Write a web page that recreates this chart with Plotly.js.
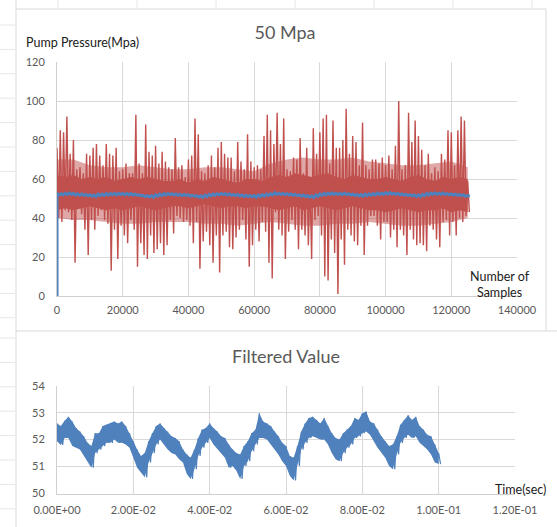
<!DOCTYPE html>
<html><head><meta charset="utf-8">
<script src="https://cdn.plot.ly/plotly-3.0.1.min.js"></script>
<style>html,body{margin:0;padding:0;background:#fff;}#chart{width:557px;height:527px;}</style>
</head><body><div id="chart"></div>
<script>
// ---------- data ----------
const sampleStep = 1000;            // samples between consecutive spike readings
const pumpHigh = [76,85,84,92,73,80,65,66,63,73,
  72,76,78,72,67,78,73,72,76,64,
  65,68,63,63,93,68,63,88,74,72,
  77,68,74,69,66,65,81,66,67,61,
  70,72,91,83,64,63,67,72,66,76,
  79,73,71,71,64,79,69,65,83,69,
  66,67,65,82,93,85,78,94,78,91,
  65,64,71,70,81,63,76,60,86,73,
  84,91,93,68,90,76,76,80,96,73,
  82,79,67,89,67,65,70,70,68,71,
  67,72,65,77,100,65,67,94,79,90,
  82,75,67,73,63,66,64,73,70,85,
  84,67,85,92,90,59];
const pumpLow = [40,38,44,43,39,17,46,42,34,21,
  39,34,41,44,39,37,13,34,19,36,
  31,27,39,34,15,27,21,19,31,22,
  24,27,21,26,39,32,41,40,38,39,
  36,27,38,14,28,33,26,17,31,12,
  31,33,25,24,30,34,39,29,15,26,
  34,28,38,33,17,9,43,34,31,19,
  33,39,34,24,34,31,26,19,39,41,
  31,10,8,29,22,1,29,16,34,31,
  28,26,36,21,36,41,41,36,29,38,
  38,30,34,25,34,31,21,34,29,26,
  27,26,23,36,34,29,25,38,39,31,
  38,31,40,38,41,43];
// solid core of the pressure band (every 2500 samples)
const coreStep = 2500;
const coreHigh = [62,61,62,60,61,60,61,59,60,61,60,61,60,59,
  59,60,58,60,59,61,60,59,58,60,60,59,
  61,62,61,63,62,61,62,63,61,60,62,61,60,
  60,61,60,59,61,62,60,59,61,60,61,60];
const coreLow = [44,45,44,45,46,45,44,45,44,45,46,45,44,45,
  46,46,45,46,47,46,45,46,46,45,46,46,
  45,44,45,46,44,45,46,45,44,45,46,45,44,
  44,43,44,45,44,43,44,44,45,43,44,43];
// dense (not solid) zone around the core (every 5000 samples)
const denseStep = 5000;
const denseHigh = [70,70,67,66,66,67,66,65,65,66,66,65,64,68,70,71,70,70,71,69,68,67,67,68,69,66];
const denseLow  = [40,39,39,38,37,37,38,38,38,37,37,36,37,38,37,36,36,37,37,38,37,36,36,37,38,40];

const timeStep = 0.001;             // seconds between filtered readings
const filtHigh = [52.6,52.5,52.7,52.85,52.67,52.43,52.3,52.12,51.88,51.76,
  52.24,52.24,52.5,52.55,52.6,52.67,52.6,52.67,52.5,52.24,
  51.94,51.63,51.39,51.5,51.94,52.24,52.5,52.6,52.43,52.3,
  52.12,52.06,51.94,51.63,51.45,51.33,51.63,52.06,52.37,52.43,
  52.6,52.43,52.3,52.12,52.06,51.82,51.63,51.5,51.45,51.76,
  51.94,52.24,52.37,52.98,52.67,52.6,52.5,52.3,52.12,51.88,
  51.76,51.39,51.33,51.76,52.3,52.6,52.8,52.85,52.73,52.6,
  52.8,52.5,52.24,52.06,52.0,52.24,52.37,52.5,52.8,52.73,
  52.98,53.04,52.67,52.6,52.37,52.12,51.94,51.76,51.82,52.12,
  52.55,52.73,52.9,52.73,52.85,52.5,52.37,52.18,52.12,51.82,
  51.5];
const filtLow = [51.94,51.8,52.06,52.06,51.76,51.7,51.63,51.4,51.2,50.96,
  51.5,51.63,51.76,51.88,51.88,52.0,51.88,51.88,51.82,51.7,
  51.33,50.96,50.78,50.6,51.15,51.5,51.82,52.0,51.82,51.63,
  51.5,51.45,51.27,51.15,50.72,50.54,50.9,51.39,51.7,51.88,
  52.06,51.82,51.63,51.5,51.33,50.96,51.02,50.84,50.54,51.02,
  51.2,51.57,51.82,52.06,52.06,52.0,51.82,51.63,51.45,51.2,
  51.02,50.66,50.48,51.02,51.63,51.88,52.06,52.12,52.06,52.0,
  52.0,51.82,51.5,51.27,51.2,51.5,51.7,51.82,52.06,52.12,
  52.24,52.3,52.18,51.94,51.7,51.5,51.33,51.02,50.9,51.45,
  51.88,52.06,52.18,52.06,52.12,51.88,51.76,51.63,51.45,51.15,
  51.09];
const samplesPerSecond = 1250000;   // 125000 samples = 0.1 s
const filterStartValue = 0;

// ticks
const pumpXTicks = [0,20000,40000,60000,80000,100000,120000,140000];
const pumpYTicks = [0,20,40,60,80,100,120];
const timeTicks = [0,0.02,0.04,0.06,0.08,0.10,0.12];
const timeTickLabels = ["0.00E+00","2.00E-02","4.00E-02","6.00E-02","8.00E-02","1.00E-01","1.20E-01"];
const filtYTicks = [50,51,52,53,54];

// ---------- build traces ----------
function band(step, hi, lo) {
  const xs = hi.map((_, i) => i * step);
  return {x: xs.concat(xs.slice().reverse()), y: hi.concat(lo.slice().reverse())};
}
const pumpX = [], pumpY = [];
pumpHigh.forEach((h, i) => {
  pumpX.push(i * sampleStep); pumpY.push(h);
  pumpX.push(i * sampleStep + sampleStep / 2); pumpY.push(pumpLow[i]);
});
const corePoly = band(coreStep, coreHigh, coreLow);
const densePoly = band(denseStep, denseHigh, denseLow);

const filtT = [], filtV = [];
filtHigh.forEach((h, k) => {
  filtT.push(k * timeStep); filtV.push(h);
  filtT.push(k * timeStep + timeStep / 2); filtV.push(filtLow[k]);
});
const filtPoly = band(timeStep, filtHigh, filtLow);

const filtSamplesX = [0].concat(filtT.map(t => t * samplesPerSecond));
const filtSamplesY = [filterStartValue].concat(filtV);

const RED = '#C0504D', BLUE = '#4F81BD';
const traces = [
  {type:'scatter', mode:'lines', x:densePoly.x, y:densePoly.y, xaxis:'x', yaxis:'y',
   fill:'toself', fillcolor:'rgba(192,80,77,0.5)', line:{width:0}, hoverinfo:'skip'},
  {type:'scatter', mode:'lines', x:corePoly.x, y:corePoly.y, xaxis:'x', yaxis:'y',
   fill:'toself', fillcolor:RED, line:{width:0}, hoverinfo:'skip'},
  {type:'scatter', mode:'lines', x:pumpX, y:pumpY, xaxis:'x', yaxis:'y',
   line:{color:RED, width:1.4, simplify:false}, hoverinfo:'skip'},
  {type:'scatter', mode:'lines', x:filtSamplesX, y:filtSamplesY, xaxis:'x', yaxis:'y',
   line:{color:BLUE, width:3, simplify:false}, hoverinfo:'skip'},
  {type:'scatter', mode:'lines', x:filtPoly.x, y:filtPoly.y, xaxis:'x2', yaxis:'y2',
   fill:'toself', fillcolor:BLUE, line:{width:0}, hoverinfo:'skip'},
  {type:'scatter', mode:'lines', x:filtT, y:filtV, xaxis:'x2', yaxis:'y2',
   line:{color:BLUE, width:1.2, simplify:false}, hoverinfo:'skip'}
];

// ---------- layout ----------
const W = 557, H = 527;
const px = x => x / W, py = y => 1 - y / H;
const GRID = '#D9D9D9', AXIS = '#CFCFCF', TXT = '#595959';
const FONT = 'Lato, "Open Sans", "Liberation Sans", sans-serif';
const axisCommon = {showgrid:true, gridcolor:GRID, gridwidth:1, zeroline:false,
  showline:true, linecolor:AXIS, linewidth:1, ticks:'', fixedrange:true,
  tickfont:{family:FONT, size:11, color:TXT}};

const shapes = [];
const border = '#D9D9D9';
function ln(x0,y0,x1,y1,c){shapes.push({type:'line',xref:'paper',yref:'paper',x0:px(x0),y0:py(y0),x1:px(x1),y1:py(y1),line:{color:c||border,width:1}});}
ln(16,9,546,9); ln(546,9,546,331); ln(16,0,16,527); ln(16,331,557,331);
// spreadsheet cell lines peeking around the charts
for (let y = 25; y < 331; y += 24.4) ln(0, y, 15, y, '#E6E6E6');
for (let y = 338; y < 527; y += 24.4) ln(0, y, 15, y, '#E6E6E6');
for (let x = 58; x < 546; x += 79) ln(x, 0, x, 8, '#E6E6E6');

const layout = {
  width:W, height:H, margin:{l:0,r:0,t:0,b:0}, showlegend:false,
  paper_bgcolor:'#fff', plot_bgcolor:'#fff',
  font:{family:FONT, size:11, color:TXT},
  title:{text:'50 Mpa', x:px(285), xanchor:'center', xref:'paper', y:py(33), yanchor:'middle', yref:'paper',
         font:{family:FONT, size:18, color:TXT}},
  xaxis: Object.assign({}, axisCommon, {domain:[px(57),px(517)], range:[0,140000], anchor:'y',
          tickvals:pumpXTicks, ticktext:pumpXTicks.map(String), ticklabelstandoff:4}),
  yaxis: Object.assign({}, axisCommon, {domain:[py(296),py(62)], range:[0,120], anchor:'x',
          tickvals:pumpYTicks, ticklabelstandoff:9}),
  xaxis2: Object.assign({}, axisCommon, {domain:[px(57),px(515)], range:[0,0.12], anchor:'y2',
          tickvals:timeTicks, ticktext:timeTickLabels, ticklabelstandoff:6}),
  yaxis2: Object.assign({}, axisCommon, {domain:[py(493.5),py(385.7)], range:[50,54], anchor:'x2',
          tickvals:filtYTicks, ticklabelstandoff:9}),
  annotations:[
    {text:'Pump Pressure(Mpa)', xref:'paper', yref:'paper', x:px(24), y:py(42), xanchor:'left', yanchor:'middle',
     showarrow:false, font:{family:FONT, size:12.5, color:'#1a1a1a'}},
    {text:'Number of<br>Samples', xref:'paper', yref:'paper', x:px(500), y:py(284.5), xanchor:'center', yanchor:'middle',
     showarrow:false, font:{family:FONT, size:12.5, color:'#1a1a1a'}},
    {text:'Filtered Value', xref:'paper', yref:'paper', x:px(285.5), y:py(356), xanchor:'center', yanchor:'middle',
     showarrow:false, font:{family:FONT, size:18, color:TXT}},
    {text:'Time(sec)', xref:'paper', yref:'paper', x:px(493), y:py(489), xanchor:'left', yanchor:'middle',
     showarrow:false, font:{family:FONT, size:12.5, color:'#1a1a1a'}}
  ],
  shapes:shapes
};

Plotly.newPlot('chart', traces, layout, {staticPlot:true, displayModeBar:false});
</script>
</body></html>
